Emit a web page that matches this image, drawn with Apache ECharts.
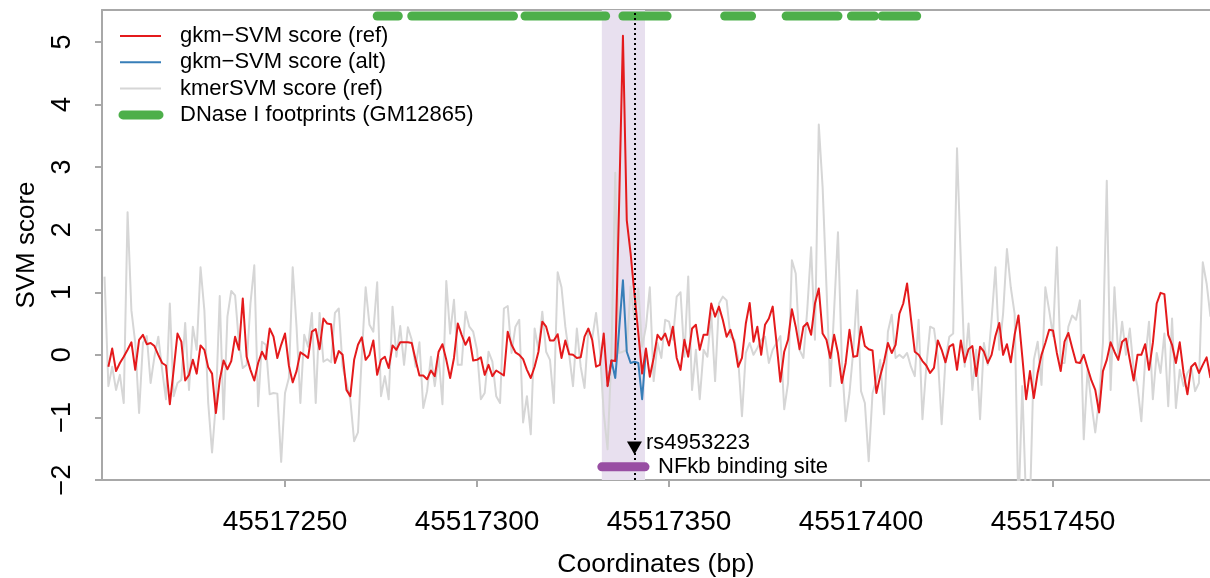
<!DOCTYPE html>
<html>
<head>
<meta charset="utf-8">
<title>gkm-SVM scores around rs4953223</title>
<script src="https://cdn.jsdelivr.net/npm/echarts@6/dist/echarts.min.js"></script>
<style>
  html, body { margin: 0; padding: 0; background: #fff; }
  #chart { width: 1210px; height: 578px; }
</style>
</head>
<body>
<div id="chart"></div>
<script>
// kmerSVM score (ref), one value per bp starting at kmerStart
const kmerStart = 45517203
const kmerScore = [
  1.25, -0.5, -0.19, -0.56, -0.32, -0.77, 2.28, 0.71, 0.19, -0.93,
  0.19, 0.3, -0.45, -0.03, 0.29, -0.24, -0.71, 0.82, -0.66, -0.45,
  -0.4, 0.51, -0.56, 0.45, 0.08, 1.4, 0.71, -0.77, -1.56, -0.77,
  0.94, -1.03, 0.61, 1.02, 0.95, 0.19, -0.21, -0.16, 0.82, 1.43,
  -0.82, 0.21, 0.16, -0.63, -0.61, -0.62, -1.71, -0.61, -0.37, 1.4,
  0.45, -0.77, 0.32, 0.13, 0.67, -0.77, 0.67, -0.11, -0.07, -0.12,
  0.67, 0.74, -0.19, -0.45, -0.71, -1.38, -1.24, 0, 1.08, 0.48,
  0.37, 1.16, -0.66, -0.34, -0.71, 0.77, -0.03, 0.46, -0.16, 0.44,
  0.24, -0.19, 0.2, -0.85, -0.58, -0.03, -0.5, -0.03, -0.79, 1.18,
  0.34, 0.88, -0.16, -0.16, 0.69, 0.45, 0.37, 0.08, -0.71, -0.61,
  0.05, -0.11, -0.66, -0.77, 0.74, 0.78, 0.03, 0.45, 0.56, -1.08,
  -0.66, -1.27, 0.42, 0.08, 0.69, 0.05, -0.08, -0.77, 1.32, 1.08,
  0.45, 0, -0.5, 0.42, -0.19, -0.53, 0.41, 0.26, 0.67, 0.08,
  -0.93, -1.51, 0, 2.91, 0.03, 0.05, 0.08, 1.09, 0.56, 1.06,
  0.13, 0.45, 1.08, -0.42, 0.19, -0.05, 0.56, 0.53, 0.24, 0.93,
  1.0, -0.03, 1.25, -0.56, 0.08, -0.71, 0.08, -0.03, 0.66, -0.42,
  0.82, 0.93, 0.87, 0.29, 0.24, -0.05, -0.98, 0.03, 0.19, 0,
  0.11, 0.24, 0.29, -0.13, 0.08, 0.19, 0.3, -0.87, -0.45, 1.51,
  1.3, 0.08, -0.05, 0.72, 1.72, 0.24, 3.68, 2.68, 1.09, -0.5,
  0.72, 1.96, -0.08, -1.06, -0.61, 0.08, 1.03, -0.58, -0.77, -1.7,
  -0.61, -0.4, -0.08, -0.95, 0.37, 0.64, -0.05, 0, -0.05, 0.03,
  -0.19, -0.34, 0.56, -1.03, -0.19, 0.45, 0.42, -0.03, -1.11, -0.08,
  0.29, 0.34, 3.3, 1.5, -0.19, 0.5, -0.56, 0.08, -1.03, 0.19,
  -0.16, 0.56, 1.4, 0.08, 0.66, 1.69, 1.08, 0.66, -2.5, -0.5,
  -2.4, -2.4, -0.08, 0.21, -0.48, 1.08, 0.71, 0.3, 1.72, -0.13,
  -0.13, 0.45, 0.63, 0.56, 0.87, -1.35, -0.24, -0.77, -1.24, -0.71,
  0.19, 2.78, -0.56, 1.08, -0.03, 0.53, 0, 0.42, -0.24, -0.5,
  -1.06, -0.08, 0.53, -0.71, 0.03, -0.29, 0.34, -0.82, 0.58, -0.85,
  -0.24, -0.5, -0.29, -0.19, -0.58, -0.45, 1.48, 1.14, 0.61
]

// gkm-SVM score (ref)
const refStart = 45517204
const refScore = [
  -0.19, 0.10, -0.26, -0.13, -0.03, 0.08, 0.20, -0.24, 0.24, 0.32,
  0.17, 0.19, 0.14, 0, -0.13, -0.17, -0.79, -0.24, 0.34, 0.21,
  -0.41, -0.32, -0.08, -0.30, 0.15, 0.08, -0.2, -0.3, -0.93, -0.4,
  -0.09, -0.23, -0.1, 0.29, 0.08, 0.9, -0.03, -0.24, -0.41, -0.13,
  0.05, -0.07, 0.42, 0.29, -0.05, 0.16, 0.34, -0.17, -0.44, -0.26,
  0.04, 0, -0.05, 0.37, 0.41, 0.09, 0.58, 0.5, 0.49, -0.13,
  0.06, 0, -0.56, -0.66, -0.08, 0.16, 0.28, -0.08, 0, 0.23,
  -0.32, -0.08, -0.03, -0.21, 0.15, 0.08, 0.2, 0.2, 0.2, 0.19,
  -0.08, -0.33, -0.33, -0.39, -0.25, -0.34, 0.05, 0.17, -0.08, -0.37,
  -0.05, 0.5, 0.32, 0.16, 0.28, -0.09, -0.08, -0.04, -0.32, -0.16,
  -0.34, -0.25, -0.29, -0.33, 0.37, 0.16, 0.04, 0, -0.07, -0.24,
  -0.37, -0.19, 0.05, 0.53, 0.45, 0.23, 0.23, 0.33, -0.05, 0.23,
  0.01, 0, -0.05, -0.04, 0.29, 0.42, 0.24, -0.19, -0.16, 0.34,
  -0.5, -0.09, -0.1, 2.4, 5.10, 2.15, 1.62, 0.97, 0.35, -0.3,
  0.1, -0.35, -0.05, 0.32, 0.24, 0.34, 0.15, 0.45, -0.05, -0.24,
  0.24, -0.03, 0.42, 0.48, 0.08, 0.32, 0.32, 0.82, 0.61, 0.77,
  0.56, 0.29, 0.4, 0.19, -0.19, -0.05, 0.5, 0.83, 0.21, 0.45,
  0, 0.48, 0.58, 0.77, 0.19, -0.43, 0.05, 0.24, 0.73, 0.45,
  0.09, 0.45, 0.51, 0.32, 0.82, 1.06, 0.34, 0.24, -0.05, 0.32,
  0.03, -0.45, -0.13, 0.4, -0.03, -0.02, 0.45, 0.14, 0.09, 0.07,
  -0.61, -0.34, -0.11, 0.19, 0.03, 0.16, 0.66, 0.82, 1.14, 0.58,
  0.05, 0, -0.1, -0.17, -0.29, -0.21, 0.23, 0.08, -0.12, 0.13,
  0.17, -0.24, 0.23, -0.12, 0.09, 0.14, -0.34, 0.13, 0.05, -0.13,
  0, 0.3, 0.51, 0, 0.17, -0.12, 0.32, 0.63, -0.03, -0.71,
  -0.26, -0.69, -0.29, 0, 0.19, 0.4, 0.39, 0.03, -0.26, 0.21,
  0.35, 0.11, -0.12, -0.13, 0, -0.21, -0.41, -0.56, -0.92, -0.26,
  -0.08, 0.2, 0.05, -0.08, 0.21, 0.26, -0.08, -0.41, 0, 0,
  0.17, -0.24, 0.19, 0.82, 0.99, 0.97, 0.32, 0.16, -0.13, 0.2,
  -0.29, -0.63, -0.19, -0.13, -0.29, -0.16, -0.04, -0.37
]

// gkm-SVM score (alt), only where it differs from ref
const altStart = 45517334
const altScore = [-0.5, -0.09, -0.37, 0.4, 1.19, 0.05, -0.13, -0.11, -0.13, -0.71, 0.1]

// DNase I footprints (GM12865), [start, end] in bp
const footprints = [
  [45517274, 45517279.5], [45517283, 45517309.5], [45517312.5, 45517333.5],
  [45517338, 45517349.5], [45517364.5, 45517371.5], [45517380.5, 45517394],
  [45517397.5, 45517403.5], [45517405.5, 45517414.5]
]
const siteRange = [45517332.5, 45517343.75]
const siteName = 'NFkb binding site'
const snpPos = 45517341
const snpName = 'rs4953223'

const xTicks = [45517250, 45517300, 45517350, 45517400, 45517450]
const yTicks = [-2, -1, 0, 1, 2, 3, 4, 5]

const RED = '#e41a1c'
const BLUE = '#377eb8'
const GREY = '#d6d6d6'
const GREEN = '#4daf4a'
const PURPLE = '#984ea3'
const BOX = '#a8a8a8'
const FONT = '"Liberation Sans", Arial, sans-serif'

const xMin = 45517202.34
const xMax = 45517490.88 // plot runs off the right edge of the picture
const footY = 5.415 // footprint track sits above the data
const siteY = -1.79
const snpY = -1.49

function toPoints(start, values) {
  return values.map((v, i) => [start + i, v])
}

const chart = echarts.init(document.getElementById('chart'))

// legend is drawn by hand, R style
const legendRows = [
  { text: 'gkm−SVM score (ref)', color: RED, width: 2 },
  { text: 'gkm−SVM score (alt)', color: BLUE, width: 2 },
  { text: 'kmerSVM score (ref)', color: GREY, width: 2 },
  { text: 'DNase I footprints (GM12865)', color: GREEN, width: 9 }
]
const legendGraphic = []
legendRows.forEach((row, i) => {
  const y = 36 + i * 26.3
  const thick = row.width > 4
  legendGraphic.push({
    type: 'line',
    shape: { x1: thick ? 123 : 120, y1: y, x2: thick ? 159 : 161, y2: y },
    style: { stroke: row.color, lineWidth: row.width, lineCap: thick ? 'round' : 'butt' },
    z: 10
  })
  legendGraphic.push({
    type: 'text',
    x: 180,
    y: y,
    style: { text: row.text, font: '22px ' + FONT, fill: '#000', verticalAlign: 'middle' },
    z: 10
  })
})

const minus = v => (v < 0 ? '−' + Math.abs(v) : String(v))

chart.setOption({
  animation: false,
  grid: {
    left: 102,
    top: 10,
    right: 0,
    height: 470,
    containLabel: false,
    outerBoundsMode: 'none' // keep the box where it is, labels may sit outside
  },
  xAxis: [
    {
      type: 'value',
      min: xMin,
      max: xMax,
      axisLine: { show: true, onZero: false, lineStyle: { color: BOX, width: 2 } },
      splitLine: { show: false },
      axisTick: { show: true, length: 7, customValues: xTicks, lineStyle: { color: BOX, width: 2 } },
      axisLabel: {
        customValues: xTicks,
        formatter: v => String(v),
        fontSize: 28,
        fontFamily: FONT,
        color: '#000',
        margin: 28
      },
      name: 'Coordinates (bp)',
      nameLocation: 'middle',
      nameGap: 71,
      nameTextStyle: { fontSize: 26.5, fontFamily: FONT, color: '#000' }
    },
    {
      // top edge of the box
      type: 'value',
      position: 'top',
      min: xMin,
      max: xMax,
      axisLine: { show: true, onZero: false, lineStyle: { color: BOX, width: 2 } },
      axisTick: { show: false },
      axisLabel: { show: false },
      splitLine: { show: false }
    }
  ],
  yAxis: {
    type: 'value',
    min: -2,
    max: 5.51,
    axisLine: { show: true, onZero: false, lineStyle: { color: BOX, width: 2 } },
    splitLine: { show: false },
    axisTick: { show: true, length: 7, customValues: yTicks, lineStyle: { color: BOX, width: 2 } },
    axisLabel: {
      customValues: yTicks,
      formatter: minus,
      rotate: 90,
      fontSize: 27,
      fontFamily: FONT,
      color: '#000',
      margin: 26
    },
    name: 'SVM score',
    nameLocation: 'middle',
    nameGap: 62,
    nameTextStyle: { fontSize: 26, fontFamily: FONT, color: '#000' }
  },
  graphic: legendGraphic,
  series: [
    {
      // shaded binding site
      type: 'line',
      data: [],
      z: 1,
      silent: true,
      markArea: {
        silent: true,
        itemStyle: { color: '#e8e0ef' },
        data: [[{ xAxis: siteRange[0] }, { xAxis: siteRange[1] }]]
      }
    },
    {
      name: 'kmerSVM score (ref)',
      type: 'line',
      data: toPoints(kmerStart, kmerScore),
      symbol: 'none',
      z: 2,
      lineStyle: { color: GREY, width: 2, join: 'round' }
    },
    {
      name: 'gkm-SVM score (alt)',
      type: 'line',
      data: toPoints(altStart, altScore),
      symbol: 'none',
      z: 3,
      lineStyle: { color: BLUE, width: 2, join: 'round' }
    },
    {
      name: 'gkm-SVM score (ref)',
      type: 'line',
      data: toPoints(refStart, refScore),
      symbol: 'none',
      z: 4,
      lineStyle: { color: RED, width: 2, join: 'round' }
    },
    {
      name: 'DNase I footprints',
      type: 'custom',
      z: 3,
      encode: { x: [0, 1], y: 2 },
      data: footprints.map(f => [f[0], f[1], footY]),
      renderItem(params, api) {
        const a = api.coord([api.value(0), api.value(2)])
        const b = api.coord([api.value(1), api.value(2)])
        return {
          type: 'line',
          shape: { x1: a[0], y1: a[1], x2: b[0], y2: b[1] },
          style: { stroke: GREEN, lineWidth: 9, lineCap: 'round' }
        }
      }
    },
    {
      name: siteName,
      type: 'custom',
      z: 5,
      encode: { x: [0, 1], y: 2 },
      data: [[siteRange[0], siteRange[1], siteY]],
      renderItem(params, api) {
        const a = api.coord([api.value(0), api.value(2)])
        const b = api.coord([api.value(1), api.value(2)])
        return {
          type: 'group',
          children: [
            {
              type: 'line',
              shape: { x1: a[0], y1: a[1], x2: b[0], y2: b[1] },
              style: { stroke: PURPLE, lineWidth: 9, lineCap: 'round' }
            },
            {
              type: 'text',
              x: b[0] + 13,
              y: b[1],
              style: { text: siteName, font: '22px ' + FONT, fill: '#000', verticalAlign: 'middle', align: 'left' }
            }
          ]
        }
      }
    },
    {
      name: snpName,
      type: 'scatter',
      z: 6,
      data: [[snpPos, snpY]],
      symbol: 'triangle',
      symbolRotate: 180,
      symbolSize: [15, 13],
      itemStyle: { color: '#000', opacity: 1 },
      label: {
        show: true,
        position: 'right',
        distance: 4,
        offset: [0, -5],
        formatter: snpName,
        fontSize: 22,
        fontFamily: FONT,
        color: '#000',
        opacity: 1
      },
      markLine: {
        silent: true,
        symbol: 'none',
        label: { show: false },
        lineStyle: { color: '#000', width: 2, type: [2, 3], opacity: 1 },
        data: [{ xAxis: snpPos }]
      }
    }
  ]
})
</script>
</body>
</html>
